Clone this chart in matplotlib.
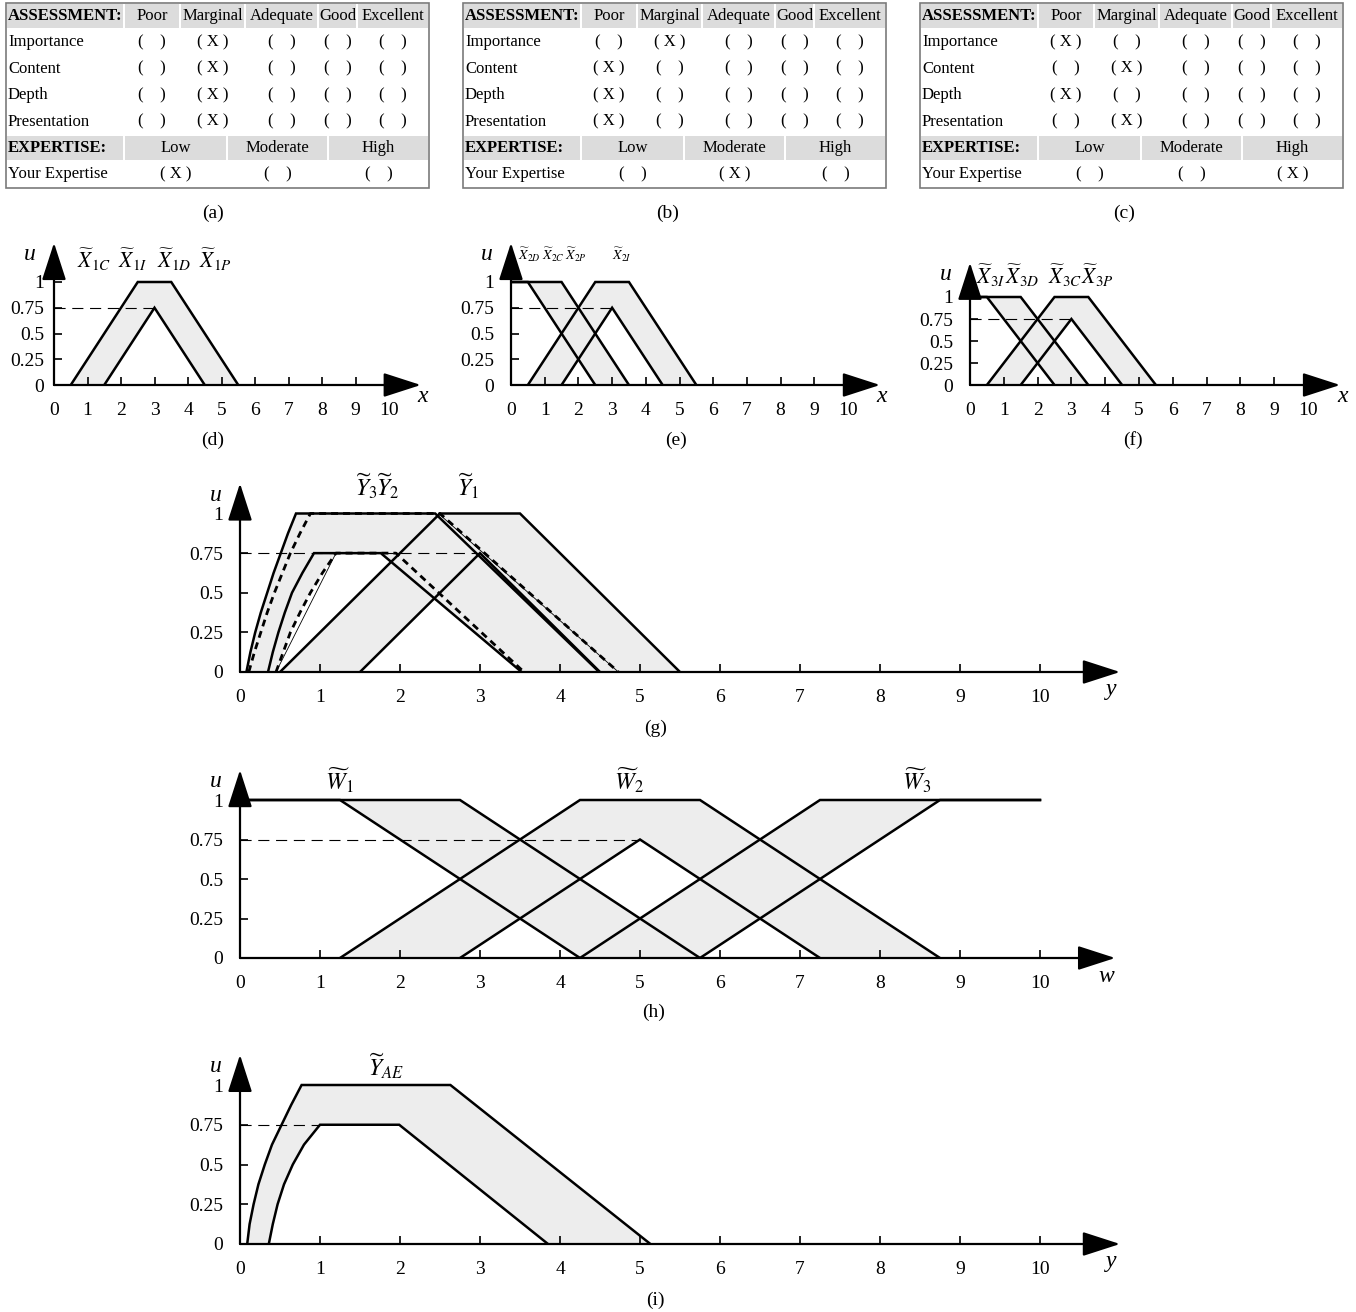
import numpy as np
import matplotlib.pyplot as plt
from matplotlib.patches import Rectangle

plt.rcParams['font.family'] = 'Liberation Serif'
plt.rcParams['mathtext.fontset'] = 'stix'

W, H = 1356, 1312

# table contents
assess_cols = ['Poor', 'Marginal', 'Adequate', 'Good', 'Excellent']
criteria = ['Importance', 'Content', 'Depth', 'Presentation']
expert_cols = ['Low', 'Moderate', 'High']
marks_a, expert_a = [1, 1, 1, 1], 0
marks_b, expert_b = [1, 0, 0, 0], 1
marks_c, expert_c = [0, 1, 0, 1], 2

u_ticks = [0, 0.25, 0.5, 0.75, 1]
u_labels = ['0', '0.25', '0.5', '0.75', '1']
x_ticks = list(range(11))

# word FOUs (d, e, f)
mid_umf_x, mid_umf_u = [0.5, 2.5, 3.5, 5.5], [0, 1, 1, 0]
mid_lmf_x, mid_lmf_u = [1.5, 3.0, 4.5], [0, 0.75, 0]
low_umf_x, low_umf_u = [0, 1.5, 3.5], [1, 1, 0]
low_lmf_x, low_lmf_u = [0, 0.5, 2.5], [1, 1, 0]

# (g) aggregated outputs
y1_umf_x, y1_umf_u = [0.5, 2.5, 3.5, 5.5], [0, 1, 1, 0]
y1_lmf_x, y1_lmf_u = [1.5, 3.0, 4.5], [0, 0.75, 0]
y2_umf_x = [0.11, 0.18, 0.26, 0.34, 0.43, 0.53, 0.63, 0.75, 0.88, 2.5, 4.73]
y2_umf_u = [0, 0.125, 0.25, 0.375, 0.5, 0.625, 0.75, 0.875, 1, 1, 0]
y2_lmf_x = [0.45, 0.54, 0.63, 0.75, 0.88, 1.03, 1.2, 1.95, 3.55]
y2_lmf_u = [0, 0.125, 0.25, 0.375, 0.5, 0.625, 0.75, 0.75, 0]
y3_umf_x = [0.08, 0.13, 0.19, 0.26, 0.34, 0.42, 0.51, 0.60, 0.70, 2.44, 4.49]
y3_umf_u = [0, 0.125, 0.25, 0.375, 0.5, 0.625, 0.75, 0.875, 1, 1, 0]
y3_lmf_x = [0.35, 0.41, 0.48, 0.56, 0.65, 0.78, 0.925, 1.76, 3.52]
y3_lmf_u = [0, 0.125, 0.25, 0.375, 0.5, 0.625, 0.75, 0.75, 0]
y2_thin = [([0.45, 1.2], [0, 0.75]), ([2.48, 4.73], [1, 0])]

# (h) weights
w1_umf_x, w1_umf_u = [0, 2.75, 5.75], [1, 1, 0]
w1_lmf_x, w1_lmf_u = [0, 1.25, 4.25], [1, 1, 0]
w2_umf_x, w2_umf_u = [1.25, 4.25, 5.75, 8.75], [0, 1, 1, 0]
w2_lmf_x, w2_lmf_u = [2.75, 5.0, 7.25], [0, 0.75, 0]
w3_umf_x, w3_umf_u = [4.25, 7.25, 10], [0, 1, 1]
w3_lmf_x, w3_lmf_u = [5.75, 8.75, 10], [0, 1, 1]

# (i) final output
yae_umf_x = [0.09, 0.12, 0.17, 0.23, 0.31, 0.40, 0.52, 0.64, 0.77, 2.63, 5.13]
yae_umf_u = [0, 0.125, 0.25, 0.375, 0.5, 0.625, 0.75, 0.875, 1, 1, 0]
yae_lmf_x = [0.36, 0.41, 0.47, 0.55, 0.66, 0.80, 1.0, 1.99, 3.85]
yae_lmf_u = [0, 0.125, 0.25, 0.375, 0.5, 0.625, 0.75, 0.75, 0]

FILL = '#ededed'
LW = 1.8

fig = plt.figure(figsize=(W / 100, H / 100), dpi=100)
bg = fig.add_axes([0, 0, 1, 1])
bg.set_xlim(0, W)
bg.set_ylim(H, 0)
bg.axis('off')


def draw_table(x0, marks, expert):
    top, rh = 2.5, 26.45
    cols = x0 + np.array([0, 118, 174, 239, 312, 351, 423])
    ecols = x0 + np.array([0, 118, 221, 322, 423])
    for r, bounds in [(0, cols), (5, ecols)]:
        y = top + r * rh
        for a, b in zip(bounds[:-1], bounds[1:]):
            bg.add_patch(Rectangle((a + 1, y + 1.5), b - a - 2, rh - 2.5,
                                   fc='#dcdcdc', ec='none'))
    bg.add_patch(Rectangle((x0, top), 423, 7 * rh, fc='none', ec='#7a7a7a', lw=1.2))
    fs = 12
    yc = top + rh / 2
    bg.text(x0 + 2, yc, 'ASSESSMENT:', fontsize=fs, fontweight='bold', va='center')
    for i, name in enumerate(assess_cols):
        bg.text((cols[i + 1] + cols[i + 2]) / 2, yc, name, fontsize=fs, ha='center', va='center')
    for r, crit in enumerate(criteria):
        yc = top + (r + 1.5) * rh
        bg.text(x0 + 2, yc, crit, fontsize=fs, va='center')
        for i in range(5):
            s = '( X )' if marks[r] == i else '(    )'
            bg.text((cols[i + 1] + cols[i + 2]) / 2, yc, s, fontsize=fs, ha='center', va='center')
    yc = top + 5.5 * rh
    bg.text(x0 + 2, yc, 'EXPERTISE:', fontsize=fs, fontweight='bold', va='center')
    for i, name in enumerate(expert_cols):
        bg.text((ecols[i + 1] + ecols[i + 2]) / 2, yc, name, fontsize=fs, ha='center', va='center')
    yc = top + 6.5 * rh
    bg.text(x0 + 2, yc, 'Your Expertise', fontsize=fs, va='center')
    for i in range(3):
        s = '( X )' if expert == i else '(    )'
        bg.text((ecols[i + 1] + ecols[i + 2]) / 2, yc, s, fontsize=fs, ha='center', va='center')


draw_table(6, marks_a, expert_a)
draw_table(463, marks_b, expert_b)
draw_table(920, marks_c, expert_c)


def panel(ox, oy, ux, uy, xend, yend, var, ypad=12, big=False):
    xmax, ymax = xend + 0.3, yend + 0.1
    ax = fig.add_axes([ox / W, 1 - oy / H, xmax * ux / W, ymax * uy / H])
    ax.set_xlim(0, xmax)
    ax.set_ylim(0, ymax)
    ax.patch.set_visible(False)
    for s in ax.spines.values():
        s.set_visible(False)
    ax.set_xticks(x_ticks)
    ax.set_xticklabels([str(t) for t in x_ticks])
    ax.set_yticks(u_ticks)
    ax.set_yticklabels(u_labels)
    ax.tick_params(direction='in', length=6, width=1.2, labelsize=14)
    ax.tick_params(axis='x', pad=12)
    ax.tick_params(axis='y', pad=ypad)
    ap = dict(arrowstyle='-|>,head_length=1.3,head_width=0.42', lw=1.6, color='k',
              mutation_scale=18, shrinkA=0, shrinkB=0)
    ax.annotate('', xy=(xend, 0), xytext=(0, 0), arrowprops=ap, annotation_clip=False)
    ax.annotate('', xy=(0, yend), xytext=(0, 0), arrowprops=ap, annotation_clip=False)
    off = (-9, -18) if big else (2, -11)
    ax.annotate(var, xy=(xend, 0), xytext=off, textcoords='offset pixels', fontsize=17,
                style='italic', ha='center', va='center', annotation_clip=False)
    ax.annotate('u', xy=(0, yend), xytext=(-24, -12), textcoords='offset pixels', fontsize=17,
                style='italic', ha='center', va='center', annotation_clip=False)
    return ax


def fou(ax, ux, uu, lx, lu, ls='-'):
    ax.fill(np.r_[ux, lx[::-1]], np.r_[uu, lu[::-1]], color=FILL, lw=0, zorder=1)
    kw = dict(color='k', lw=LW, zorder=3, solid_joinstyle='miter')
    if ls != '-':
        kw.update(ls=(0, (2.5, 1.8)), lw=2.0)
    ax.plot(ux, uu, **kw)
    ax.plot(lx, lu, **kw)


def ref(ax, x):
    ax.plot([0, x], [0.75, 0.75], color='k', lw=0.8, ls=(0, (10, 6)), zorder=2)


# (d)
ax = panel(54, 385, 33.5, 103, 10.95, 1.38, 'x', ypad=7)
fou(ax, mid_umf_x, mid_umf_u, mid_lmf_x, mid_lmf_u)
ref(ax, 3)
# (e)
ax = panel(511, 385, 33.7, 103, 10.95, 1.38, 'x')
fou(ax, low_umf_x, low_umf_u, low_lmf_x, low_lmf_u)
fou(ax, mid_umf_x, mid_umf_u, mid_lmf_x, mid_lmf_u)
ref(ax, 3)
# (f)
ax = panel(970, 385, 33.8, 88, 10.95, 1.39, 'x')
fou(ax, low_umf_x, low_umf_u, low_lmf_x, low_lmf_u)
fou(ax, mid_umf_x, mid_umf_u, mid_lmf_x, mid_lmf_u)
ref(ax, 3)
# (g)
ax = panel(240, 672, 80, 158.5, 11.0, 1.19, 'y', big=True)
fou(ax, y1_umf_x, y1_umf_u, y1_lmf_x, y1_lmf_u)
fou(ax, y3_umf_x, y3_umf_u, y3_lmf_x, y3_lmf_u)
fou(ax, y2_umf_x, y2_umf_u, y2_lmf_x, y2_lmf_u, ls='--')
for tx, tu in y2_thin:
    ax.plot(tx, tu, color='k', lw=0.6, zorder=3)
ref(ax, 3)
# (h)
ax = panel(240, 958, 80, 158, 10.94, 1.19, 'w', big=True)
fou(ax, w1_umf_x, w1_umf_u, w1_lmf_x, w1_lmf_u)
fou(ax, w2_umf_x, w2_umf_u, w2_lmf_x, w2_lmf_u)
fou(ax, w3_umf_x, w3_umf_u, w3_lmf_x, w3_lmf_u)
ref(ax, 5)
# (i)
ax = panel(240, 1244, 80, 159, 11.0, 1.19, 'y', big=True)
fou(ax, yae_umf_x, yae_umf_u, yae_lmf_x, yae_lmf_u)
ref(ax, 1.0)

# curve names
names = [
    (77, 268, r'$\widetilde{X}_{\mathit{1C}}$', 15.5), (118, 268, r'$\widetilde{X}_{\mathit{1I}}$', 15.5),
    (157, 268, r'$\widetilde{X}_{\mathit{1D}}$', 15.5), (199, 268, r'$\widetilde{X}_{\mathit{1P}}$', 15.5),
    (518, 260, r'$\widetilde{X}_{\mathit{2D}}$', 10), (542, 260, r'$\widetilde{X}_{\mathit{2C}}$', 10),
    (565, 260, r'$\widetilde{X}_{\mathit{2P}}$', 10), (612, 260, r'$\widetilde{X}_{\mathit{2I}}$', 10),
    (976, 284, r'$\widetilde{X}_{\mathit{3I}}$', 15.5), (1005, 284, r'$\widetilde{X}_{\mathit{3D}}$', 15.5),
    (1048, 284, r'$\widetilde{X}_{\mathit{3C}}$', 15.5), (1081, 284, r'$\widetilde{X}_{\mathit{3P}}$', 15.5),
    (355, 496, r'$\widetilde{Y}_{\mathit{3}}$', 17), (376, 496, r'$\widetilde{Y}_{\mathit{2}}$', 17),
    (457, 496, r'$\widetilde{Y}_{\mathit{1}}$', 17),
    (325, 790, r'$\widetilde{W}_{\mathit{1}}$', 17), (614, 790, r'$\widetilde{W}_{\mathit{2}}$', 17),
    (902, 790, r'$\widetilde{W}_{\mathit{3}}$', 17),
    (368, 1076, r'$\widetilde{Y}_{\mathit{AE}}$', 17),
]
for x, y, s, fs in names:
    bg.text(x, y, s, fontsize=fs, ha='left', va='baseline')

captions = [(213, 213, '(a)'), (668, 213, '(b)'), (1124, 213, '(c)'),
            (213, 440, '(d)'), (676, 440, '(e)'), (1133, 440, '(f)'),
            (656, 728, '(g)'), (654, 1012, '(h)'), (655, 1300, '(i)')]
for x, y, s in captions:
    bg.text(x, y, s, fontsize=14, ha='center', va='center')

fig.savefig('out.png', dpi=100)
